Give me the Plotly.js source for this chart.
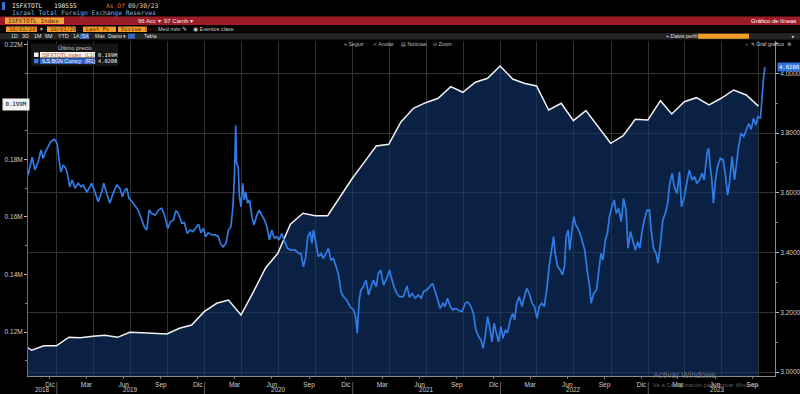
<!DOCTYPE html>
<html><head><meta charset="utf-8">
<script src="https://cdn.plot.ly/plotly-3.0.1.min.js"></script>
<style>html,body{margin:0;padding:0;background:#000;overflow:hidden}#chart{width:800px;height:394px}</style>
</head><body><div id="chart"></div>
<script>
// ---------- DATA ----------
const reserveName = 'ISFXTOTL Index';
const reserveDates = ['2018-09-30','2018-10-31','2018-11-30','2018-12-31','2019-01-31','2019-02-28','2019-03-31','2019-04-30','2019-05-31','2019-06-30','2019-07-31','2019-08-31','2019-09-30','2019-10-31','2019-11-30','2019-12-31','2020-01-31','2020-02-29','2020-03-31','2020-04-30','2020-05-31','2020-06-30','2020-07-31','2020-08-31','2020-09-30','2020-10-31','2020-11-30','2020-12-31','2021-01-31','2021-02-28','2021-03-31','2021-04-30','2021-05-31','2021-06-30','2021-07-31','2021-08-31','2021-09-30','2021-10-31','2021-11-30','2021-12-31','2022-01-31','2022-02-28','2022-03-31','2022-04-30','2022-05-31','2022-06-30','2022-07-31','2022-08-31','2022-09-30','2022-10-31','2022-11-30','2022-12-31','2023-01-31','2023-02-28','2023-03-31','2023-04-30','2023-05-31','2023-06-30','2023-07-31','2023-08-31','2023-09-30'];
const reserveValues = [116200,113700,115200,115200,118200,118000,118500,118850,118150,119900,119750,119550,119300,121300,122430,127060,129980,131130,125910,133810,142360,147370,157460,161280,160450,160450,166710,173460,179340,184690,185280,193040,197800,199750,201280,205320,203370,206850,208240,212510,207990,206500,205560,197210,199540,193490,196970,191130,185630,188270,193980,193730,200450,195820,200100,201490,198950,201280,204170,202430,198555];

const ilsName = 'ILS BGN Curncy';
const ilsDates = ['2018-10-22','2018-10-27','2018-11-01','2018-11-08','2018-11-16','2018-11-23','2018-11-28','2018-12-04','2018-12-11','2018-12-17','2018-12-26','2019-01-02','2019-01-06','2019-01-11','2019-01-17','2019-01-23','2019-01-28','2019-02-02','2019-02-08','2019-02-15','2019-02-23','2019-03-02','2019-03-07','2019-03-16','2019-03-22','2019-03-28','2019-04-05','2019-04-13','2019-04-22','2019-04-27','2019-05-04','2019-05-12','2019-05-20','2019-05-29','2019-06-06','2019-06-12','2019-06-18','2019-06-23','2019-06-28','2019-07-06','2019-07-15','2019-07-21','2019-07-30','2019-08-05','2019-08-11','2019-08-17','2019-08-23','2019-09-01','2019-09-09','2019-09-17','2019-09-24','2019-10-02','2019-10-09','2019-10-16','2019-10-22','2019-10-28','2019-11-06','2019-11-12','2019-11-19','2019-11-26','2019-12-04','2019-12-13','2019-12-17','2019-12-23','2019-12-29','2020-01-04','2020-01-10','2020-01-19','2020-01-27','2020-02-04','2020-02-10','2020-02-16','2020-02-23','2020-02-29','2020-03-06','2020-03-11','2020-03-15','2020-03-18','2020-03-20','2020-03-24','2020-03-27','2020-03-31','2020-04-04','2020-04-08','2020-04-12','2020-04-16','2020-04-21','2020-04-27','2020-05-02','2020-05-09','2020-05-15','2020-05-21','2020-05-28','2020-06-03','2020-06-09','2020-06-15','2020-06-21','2020-06-27','2020-07-03','2020-07-10','2020-07-15','2020-07-24','2020-08-01','2020-08-12','2020-08-20','2020-08-26','2020-09-01','2020-09-07','2020-09-12','2020-09-18','2020-09-22','2020-09-26','2020-10-02','2020-10-08','2020-10-15','2020-10-20','2020-10-27','2020-11-02','2020-11-08','2020-11-14','2020-11-21','2020-11-27','2020-12-03','2020-12-09','2020-12-17','2020-12-25','2021-01-03','2021-01-08','2021-01-12','2021-01-17','2021-01-21','2021-01-27','2021-02-03','2021-02-09','2021-02-15','2021-02-21','2021-02-28','2021-03-05','2021-03-11','2021-03-18','2021-03-26','2021-04-02','2021-04-08','2021-04-13','2021-04-20','2021-04-26','2021-05-06','2021-05-15','2021-05-21','2021-05-28','2021-06-04','2021-06-12','2021-06-19','2021-06-25','2021-07-03','2021-07-10','2021-07-17','2021-07-24','2021-07-30','2021-08-05','2021-08-12','2021-08-17','2021-08-23','2021-08-30','2021-09-05','2021-09-13','2021-09-21','2021-09-28','2021-10-06','2021-10-12','2021-10-20','2021-10-26','2021-11-01','2021-11-08','2021-11-14','2021-11-19','2021-11-24','2021-11-30','2021-12-05','2021-12-11','2021-12-16','2021-12-21','2021-12-27','2022-01-02','2022-01-07','2022-01-13','2022-01-18','2022-01-25','2022-01-31','2022-02-05','2022-02-10','2022-02-16','2022-02-23','2022-03-01','2022-03-07','2022-03-13','2022-03-20','2022-03-26','2022-04-01','2022-04-07','2022-04-13','2022-04-19','2022-04-26','2022-05-01','2022-05-08','2022-05-12','2022-05-16','2022-05-22','2022-05-29','2022-06-03','2022-06-08','2022-06-12','2022-06-17','2022-06-21','2022-06-26','2022-07-01','2022-07-06','2022-07-13','2022-07-19','2022-07-28','2022-08-04','2022-08-09','2022-08-13','2022-08-19','2022-08-26','2022-08-31','2022-09-06','2022-09-11','2022-09-17','2022-09-22','2022-09-27','2022-10-03','2022-10-09','2022-10-14','2022-10-20','2022-10-26','2022-11-01','2022-11-07','2022-11-12','2022-11-18','2022-11-24','2022-11-30','2022-12-06','2022-12-11','2022-12-16','2022-12-22','2022-12-29','2023-01-04','2023-01-08','2023-01-14','2023-01-20','2023-01-25','2023-01-31','2023-02-06','2023-02-12','2023-02-18','2023-02-23','2023-03-01','2023-03-06','2023-03-13','2023-03-19','2023-03-24','2023-03-31','2023-04-07','2023-04-12','2023-04-19','2023-04-25','2023-05-01','2023-05-08','2023-05-14','2023-05-19','2023-05-26','2023-05-30','2023-06-03','2023-06-07','2023-06-11','2023-06-16','2023-06-21','2023-06-28','2023-07-05','2023-07-10','2023-07-16','2023-07-21','2023-07-27','2023-08-02','2023-08-07','2023-08-12','2023-08-18','2023-08-25','2023-08-31','2023-09-06','2023-09-12','2023-09-18','2023-09-24','2023-09-29','2023-10-05','2023-10-09','2023-10-13','2023-10-16'];
const ilsValues = [3.659,3.693,3.719,3.676,3.704,3.743,3.715,3.737,3.756,3.771,3.779,3.765,3.715,3.670,3.693,3.682,3.659,3.620,3.643,3.615,3.632,3.620,3.626,3.603,3.615,3.632,3.603,3.570,3.603,3.632,3.598,3.565,3.598,3.626,3.615,3.587,3.609,3.615,3.581,3.570,3.553,3.542,3.509,3.486,3.475,3.542,3.531,3.525,3.542,3.548,3.525,3.481,3.503,3.509,3.540,3.531,3.498,3.500,3.464,3.475,3.470,3.486,3.495,3.466,3.481,3.453,3.466,3.459,3.460,3.453,3.428,3.419,3.431,3.475,3.486,3.553,3.665,3.825,3.699,3.687,3.587,3.553,3.632,3.576,3.603,3.565,3.576,3.520,3.492,3.525,3.542,3.525,3.509,3.486,3.442,3.475,3.448,3.453,3.442,3.464,3.442,3.414,3.408,3.408,3.397,3.397,3.352,3.386,3.453,3.470,3.431,3.475,3.431,3.386,3.397,3.380,3.397,3.414,3.375,3.380,3.352,3.325,3.269,3.252,3.241,3.219,3.208,3.185,3.130,3.241,3.274,3.285,3.308,3.258,3.285,3.308,3.285,3.330,3.341,3.291,3.314,3.341,3.308,3.285,3.263,3.252,3.252,3.288,3.250,3.263,3.247,3.258,3.247,3.269,3.274,3.285,3.297,3.269,3.241,3.213,3.230,3.219,3.247,3.219,3.208,3.213,3.205,3.202,3.230,3.235,3.219,3.196,3.141,3.118,3.107,3.079,3.118,3.185,3.152,3.101,3.163,3.130,3.101,3.152,3.113,3.141,3.130,3.174,3.196,3.174,3.230,3.252,3.219,3.252,3.280,3.263,3.230,3.219,3.180,3.219,3.230,3.219,3.285,3.352,3.419,3.453,3.397,3.352,3.341,3.325,3.352,3.453,3.475,3.408,3.470,3.520,3.492,3.475,3.453,3.408,3.330,3.285,3.230,3.263,3.274,3.330,3.397,3.375,3.442,3.464,3.520,3.553,3.576,3.531,3.548,3.503,3.581,3.542,3.414,3.470,3.442,3.408,3.436,3.414,3.464,3.509,3.542,3.542,3.475,3.414,3.397,3.364,3.431,3.509,3.531,3.565,3.632,3.665,3.620,3.598,3.670,3.553,3.587,3.632,3.676,3.643,3.654,3.632,3.643,3.665,3.643,3.732,3.749,3.687,3.643,3.565,3.643,3.687,3.715,3.710,3.665,3.592,3.637,3.721,3.643,3.698,3.754,3.799,3.788,3.810,3.832,3.812,3.849,3.827,3.855,3.849,3.933,3.988,4.0208];

const monthTickDates = ['2018-12-15','2019-03-15','2019-06-15','2019-09-15','2019-12-15','2020-03-15','2020-06-15','2020-09-15','2020-12-15','2021-03-15','2021-06-15','2021-09-15','2021-12-15','2022-03-15','2022-06-15','2022-09-15','2022-12-15','2023-03-15','2023-06-15','2023-09-15'];
const monthTickLabels = ['Dic','Mar','Jun','Sep','Dic','Mar','Jun','Sep','Dic','Mar','Jun','Sep','Dic','Mar','Jun','Sep','Dic','Mar','Jun','Sep'];
const yearLabelDates = ['2018-11-26','2019-07-01','2020-07-01','2021-07-01','2022-07-01','2023-06-20'];
const yearLabels = ['2018','2019','2020','2021','2022','2023'];
const yearBoundaries = ['2019-01-01','2020-01-01','2021-01-01','2022-01-01','2023-01-01'];
const leftTickValues = [120000,140000,160000,180000,200000,220000];
const leftTickLabels = ['0.12M','0.14M','0.16M','0.18M','0.20M','0.22M'];

// ---------- LAYOUT HELPERS (pixel -> paper) ----------
const L=28, R=775, T=41, B=376;
const px = x => (x-L)/(R-L);
const py = y => (B-y)/(B-T);
const F = 'Liberation Sans, Arial, sans-serif';
const MONO = 'DejaVu Sans Mono, Liberation Mono, monospace';
const shapes = [];
const ann = [];
function rect(x0,y0,x1,y1,color){shapes.push({type:'rect',xref:'paper',yref:'paper',x0:px(x0),x1:px(x1),y0:py(y1),y1:py(y0),fillcolor:color,line:{width:0},layer:'above'});}
function txt(x,y,text,color,size,family,anchor){ann.push({xref:'paper',yref:'paper',x:px(x),y:py(y),text:text,showarrow:false,xanchor:anchor||'left',yanchor:'middle',font:{family:family||F,size:size||6,color:color||'#d8d8d8'},borderpad:0});}

// header
rect(2,2,5,10,'#3a6fd8');
txt(11,6,'ISFXTOTL','#f2f2f2',6.3,MONO);
txt(53,6,'198555','#f2f2f2',6.3,MONO);
txt(105,6,'As Of','#e06a2c',6.3,MONO);
txt(127,6,'09/30/23','#f0d8c8',6.3,MONO);
txt(11,13,'Israel Total Foreign Exchange Reserves','#7db6e0',6.3,MONO);
rect(0,16.5,800,25,'#9c1c27');
rect(5,17.5,64,24,'#f2a33a');
txt(7,20.8,'ISFXTOTL Index','#5b1b00',6,MONO);
txt(137,20.8,'96 Acc ▾','#f4e8e8',6);
txt(163,20.8,'97 Camb ▾','#f4e8e8',6);
txt(797,20.8,'Gráfico de líneas','#ffffff',6,F,'right');
const orangeBoxes = [[6,37,'10/01/2018'],[47,76,'10/01/2023'],[83,116,'Last Px'],[118,147,'Divisa local']];
orangeBoxes.forEach(b=>{rect(b[0],26.5,b[1],32,'#f39c28');txt(b[0]+1.5,29.3,b[2],'#5b2000',5.5,MONO);});
txt(39,29.3,'▾ -','#aaaaaa',5.5);
txt(157,29.3,'Med móv ✎','#d0d0d0',5.5);
txt(192,29.3,'◉ Eventos clave','#d0d0d0',5.5);
rect(0,33,800,39.5,'#242424');
rect(80,33.5,89,39,'#3466c2');
rect(128,33.8,135,38.8,'#3466c2');
const periods = [[10,'1D'],[21,'3D'],[33,'1M'],[44,'6M'],[57,'YTD'],[72,'1A'],[81,'5A'],[94,'Máx'],[107,'Diario ▾'],[143,'Tabla']];
periods.forEach(p=>txt(p[0],36.3,p[1],'#e0e0e0',5.3));
txt(665,36.3,'+ Datos perfil','#e0e0e0',5.3);
rect(698,33.8,749,38.8,'#f39c28');
txt(791,36.3,'▸','#e0e0e0',5.3);
// chart toolbar
txt(343,44,'+ Seguir','#bdbdbd',5.3);
txt(372,44,'✓ Anotar','#bdbdbd',5.3);
txt(400,44,'▤ Noticias','#bdbdbd',5.3);
txt(432,44,'⊙ Zoom','#bdbdbd',5.3);
txt(745,44,'‹  ✎ Gráf gráfico  ⚙','#d0d0d0',5.3);

// legend box
const lastRes = reserveValues[reserveValues.length-1];
const lastIls = ilsValues[ilsValues.length-1];
rect(31,43.5,118,66,'#151515');
txt(57,47.5,'Último precio','#cfcfcf',5.8);
rect(34,52.5,38.5,57,'#f5f5f5');
rect(40,52,95,57.6,'#f5f5f5');
txt(41,54.8,reserveName,'#c8501c',5.3);
txt(84,54.8,'(L1)','#c8501c',5.3);
txt(97,54.8,(lastRes/1e6).toFixed(3)+'M','#f0f0f0',5.3,MONO);
rect(34,58.8,38.5,63.3,'#3b7be0');
rect(40,58.3,95,63.9,'#2f62c4');
txt(41,61.1,ilsName,'#ffffff',5.3);
txt(84,61.1,'(R1)','#ffffff',5.3);
txt(97,61.1,lastIls.toFixed(4),'#f0f0f0',5.3,MONO);

// last value tags
ann.push({xref:'paper',yref:'y',x:px(15.5),y:lastRes,yshift:2,text:(lastRes/1e6).toFixed(3)+'M',showarrow:false,xanchor:'center',yanchor:'middle',bgcolor:'#f2f2f2',borderpad:2.4,font:{family:MONO,size:5.8,color:'#000'}});
ann.push({xref:'paper',yref:'y2',x:px(789),y:lastIls,text:lastIls.toFixed(4),showarrow:false,xanchor:'center',yanchor:'middle',bgcolor:'#2f72e0',borderpad:1,font:{family:MONO,size:5.6,color:'#fff'}});

// year labels and separators
yearLabels.forEach((y,i)=>ann.push({xref:'x',yref:'paper',x:yearLabelDates[i],y:py(389.5),text:y,showarrow:false,xanchor:'center',yanchor:'middle',font:{family:F,size:6.3,color:'#cfcfcf'}}));
yearBoundaries.forEach(d=>shapes.push({type:'line',xref:'x',yref:'paper',x0:d,x1:d,y0:py(382),y1:py(394),line:{color:'#5a5a5a',width:1}}));

// watermark
txt(652,374.5,'Activar Windows','rgba(190,190,190,0.5)',8.5);
txt(652,384.5,'Ve a Configuración para activar Windows.','rgba(190,190,190,0.5)',5.8);

const traces = [
  {type:'scatter',mode:'lines',name:reserveName,x:reserveDates,y:reserveValues,yaxis:'y',line:{color:'#f2f2f2',width:1.5},fill:'tozeroy',fillcolor:'rgba(16,54,108,0.62)',hoverinfo:'skip'},
  {type:'scatter',mode:'lines',name:ilsName,x:ilsDates,y:ilsValues,yaxis:'y2',line:{color:'#2f7ce6',width:1.7},hoverinfo:'skip'}
];

const tickFont = {family:F,size:6.5,color:'#cfcfcf'};
const layout = {
  width:800,height:394,
  margin:{l:L,r:800-R,t:T,b:394-B,pad:0},
  paper_bgcolor:'#000',plot_bgcolor:'#000',
  showlegend:false,
  xaxis:{type:'date',range:['2018-10-21T20:00','2023-11-10'],tickmode:'array',tickvals:monthTickDates,ticktext:monthTickLabels,
    ticks:'outside',ticklen:2,tickcolor:'#777',showgrid:false,showline:true,linecolor:'#8c8c8c',linewidth:1,zeroline:false,
    tickfont:tickFont,fixedrange:true,
    minor:{tickmode:'linear',tick0:'2018-01-01',dtick:'M3',showgrid:true,gridcolor:'#333333',gridwidth:1,ticks:''}},
  yaxis:{range:[104700,221200],tickmode:'array',tickvals:leftTickValues,ticktext:leftTickLabels,ticks:'outside',ticklen:3,tickcolor:'#bbbbbb',
    showgrid:false,zeroline:false,showline:true,linecolor:'#6a6a6a',tickfont:tickFont,fixedrange:true,
    minor:{tickmode:'linear',tick0:0,dtick:10000,ticks:'outside',ticklen:2,tickcolor:'#888',showgrid:false}},
  yaxis2:{overlaying:'y',side:'right',range:[2.9866,4.108],tickmode:'linear',tick0:0,dtick:0.2,tickformat:'.4f',
    ticks:'outside',ticklen:3,tickcolor:'#bbbbbb',showgrid:true,gridcolor:'#333333',gridwidth:1,zeroline:false,showline:true,linecolor:'#8c8c8c',
    tickfont:tickFont,fixedrange:true,
    minor:{tickmode:'linear',tick0:0,dtick:0.1,ticks:'outside',ticklen:2,tickcolor:'#888',showgrid:false}},
  shapes:shapes,
  annotations:ann
};
Plotly.newPlot('chart',traces,layout,{displayModeBar:false,staticPlot:true});
</script></body></html>
